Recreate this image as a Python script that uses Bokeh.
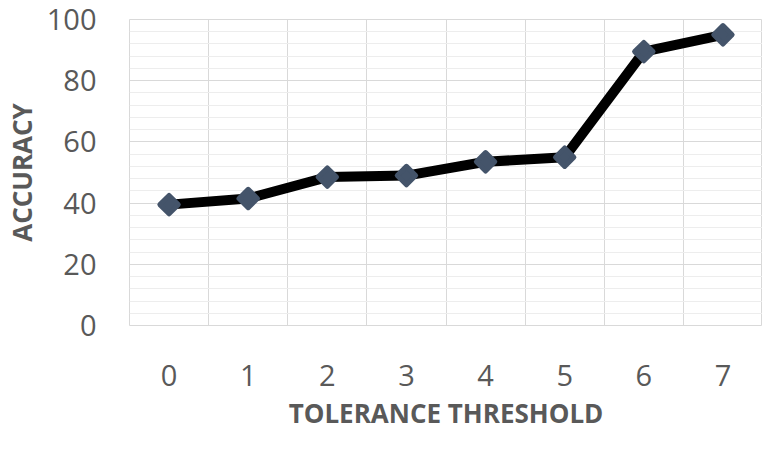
from bokeh.plotting import figure
from bokeh.models import Range1d, FixedTicker
from bokeh.embed import file_html
from bokeh.resources import INLINE
import math

thresholds = [0, 1, 2, 3, 4, 5, 6, 7]
tick_labels = ["0", "1", "2", "3", "4", "5", "6", "7"]
accuracy = [39.5, 41.5, 48.5, 49.0, 53.5, 55.0, 89.5, 95.0]
y_major = [0, 20, 40, 60, 80, 100]
y_minor = [4, 8, 12, 16, 24, 28, 32, 36, 44, 48, 52, 56, 64, 68, 72, 76, 84, 88, 92, 96]

TXT = "#595959"
FONT = "Open Sans"

p = figure(width=762, height=433, min_border_left=128, min_border_right=0,
           min_border_top=19, min_border_bottom=106,
           output_backend="svg", toolbar_location=None,
           x_range=Range1d(-0.5, 7.5), y_range=Range1d(0, 100))

p.line(thresholds, accuracy, line_color="black", line_width=10, line_join="round")
p.scatter(thresholds, accuracy, marker="square", size=13, angle=math.pi / 4,
          fill_color="#44546A", line_color="#44546A", line_width=5, line_join="round")

p.outline_line_color = "#D9D9D9"
p.background_fill_color = "white"
p.border_fill_color = "white"

# x axis
p.xaxis.ticker = FixedTicker(ticks=thresholds)
p.xaxis.major_label_overrides = {t: l for t, l in zip(thresholds, tick_labels)}
p.xgrid.ticker = FixedTicker(ticks=[t - 0.5 for t in thresholds] + [thresholds[-1] + 0.5])
p.xgrid.grid_line_color = "#D9D9D9"
p.xgrid.grid_line_width = 1

# y axis
p.yaxis.ticker = FixedTicker(ticks=y_major, minor_ticks=y_minor)
p.ygrid.grid_line_color = "#D9D9D9"
p.ygrid.minor_grid_line_color = "#EDEDED"

for ax in (p.xaxis[0], p.yaxis[0]):
    ax.axis_line_color = None
    ax.major_tick_line_color = None
    ax.minor_tick_line_color = None
    ax.major_label_text_font = FONT
    ax.major_label_text_font_size = "29px"
    ax.major_label_text_color = TXT
    ax.axis_label_text_font = FONT
    ax.axis_label_text_font_style = "bold"
    ax.axis_label_text_font_size = "26px"
    ax.axis_label_text_color = TXT

p.xaxis.axis_label = "TOLERANCE THRESHOLD"
p.yaxis.axis_label = "ACCURACY"
p.xaxis.major_label_standoff = 33
p.yaxis.major_label_standoff = 27
p.xaxis.axis_label_standoff = 6
p.yaxis.axis_label_standoff = 4

open("out.html", "w").write(file_html(p, INLINE))
